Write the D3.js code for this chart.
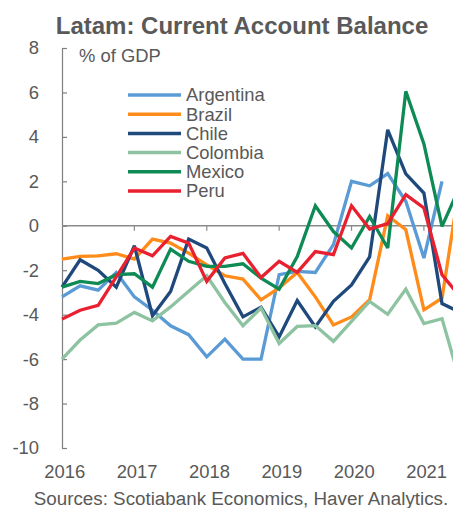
<!DOCTYPE html>
<html>
<head>
<meta charset="utf-8">
<script src="https://cdn.jsdelivr.net/npm/d3@7"></script>
<style>
  html, body { margin: 0; padding: 0; background: #fff; }
  svg { display: block; font-family: "Liberation Sans", Arial, sans-serif; }
</style>
</head>
<body>
<svg id="chart" width="453" height="508"></svg>
<script>
// Quarterly current account balances, % of GDP
const quarters = ["2016Q1","2016Q2","2016Q3","2016Q4","2017Q1","2017Q2","2017Q3","2017Q4",
  "2018Q1","2018Q2","2018Q3","2018Q4","2019Q1","2019Q2","2019Q3","2019Q4",
  "2020Q1","2020Q2","2020Q3","2020Q4","2021Q1","2021Q2","2021Q3"];
const yearLabels = ["2016","2017","2018","2019","2020","2021"];
const yTicks = [8, 6, 4, 2, 0, -2, -4, -6, -8, -10];

const argentina = [-3.2, -2.7, -2.9, -2.1, -3.2, -3.8, -4.5, -4.9, -5.9, -5.1, -6.0, -6.0,
  -2.2, -2.05, -2.1, -0.85, 2.0, 1.8, 2.35, 1.1, -1.45, 2.0];
const brazil = [-1.5, -1.38, -1.35, -1.26, -1.5, -0.6, -0.78, -1.23, -1.76, -2.25, -2.4, -3.33,
  -2.8, -2.1, -3.2, -4.46, -4.1, -3.33, 0.45, -0.18, -3.78, -3.26, 2.0];
const chile = [-2.76, -1.53, -2.0, -2.76, -0.9, -4.05, -2.96, -0.6, -1.0, -2.6, -4.1, -3.66,
  -5.0, -3.36, -4.55, -3.4, -2.66, -1.4, 4.32, 2.34, 1.47, -3.5, -3.9];
const colombia = [-6.0, -5.14, -4.46, -4.38, -3.9, -4.28, -3.65, -2.95, -2.25, -3.45, -4.5, -3.7,
  -5.3, -4.53, -4.49, -5.2, -4.3, -3.4, -3.98, -2.85, -4.4, -4.18, -7.0];
const mexico = [-2.76, -2.5, -2.6, -2.2, -2.16, -2.76, -1.05, -1.6, -1.83, -1.83, -1.71, -2.36,
  -2.85, -1.38, 0.9, -0.26, -1.0, 0.42, -1.0, 6.05, 3.68, -0.03, 1.8];
const peru = [-4.2, -3.8, -3.58, -2.3, -1.0, -1.35, -0.48, -0.78, -2.5, -1.45, -1.24, -2.33,
  -1.6, -2.1, -1.16, -1.3, 0.9, -0.15, 0.1, 1.4, 0.8, -2.2, -3.2];

const seriesNames = ["Argentina", "Brazil", "Chile", "Colombia", "Mexico", "Peru"];
const seriesValues = [argentina, brazil, chile, colombia, mexico, peru];
const seriesColors = ["#5B9BD5", "#FF8C1A", "#1F497D", "#8DC3A0", "#0E8A55", "#E8202F"];

const textColor = "#595959";
const svg = d3.select("#chart");

const x = d3.scaleLinear().domain([0, 21]).range([62, 442]);
const y = d3.scaleLinear().domain([-10, 8]).range([448, 48]);

// Title
svg.append("text")
  .attr("x", 242).attr("y", 34)
  .attr("text-anchor", "middle")
  .attr("font-size", 24).attr("font-weight", "bold")
  .attr("fill", textColor)
  .text("Latam: Current Account Balance");

// Unit label
svg.append("text")
  .attr("x", 79).attr("y", 61.5)
  .attr("font-size", 18.4)
  .attr("fill", textColor)
  .text("% of GDP");

// Left axis: line, inward ticks, labels (plain hyphen for negatives)
const yAxis = d3.axisLeft(y)
  .tickValues(yTicks)
  .tickSizeInner(-5)
  .tickSizeOuter(0)
  .tickPadding(23)
  .tickFormat(d => String(d));
const gy = svg.append("g")
  .attr("transform", `translate(${x(0)},0)`)
  .call(yAxis);
gy.select(".domain").attr("stroke", "#7F7F7F").attr("stroke-width", 1.2);
gy.selectAll(".tick line").attr("stroke", "#7F7F7F").attr("stroke-width", 1.2);
gy.selectAll(".tick text")
  .attr("font-size", 18.4)
  .attr("fill", textColor)
  .attr("font-family", "Liberation Sans, Arial, sans-serif");

// Zero line with year ticks hanging below
const yearIdx = yearLabels.map((_, i) => i * 4);
svg.append("line")
  .attr("x1", x(0)).attr("x2", 453)
  .attr("y1", y(0)).attr("y2", y(0))
  .attr("stroke", "#8A8A8A").attr("stroke-width", 1.5);
svg.append("g").selectAll("line")
  .data(yearIdx.slice(1))
  .join("line")
  .attr("x1", d => x(d)).attr("x2", d => x(d))
  .attr("y1", y(0)).attr("y2", y(0) + 5)
  .attr("stroke", "#8A8A8A").attr("stroke-width", 1.2);

// Year labels along the bottom
svg.append("g").selectAll("text")
  .data(yearLabels)
  .join("text")
  .attr("x", (d, i) => x(yearIdx[i] + 0.15))
  .attr("y", 478)
  .attr("text-anchor", "middle")
  .attr("font-size", 18.4)
  .attr("fill", textColor)
  .text(d => d);

// Series lines
const line = d3.line()
  .x((d, i) => x(i))
  .y(d => y(d));
svg.append("g").selectAll("path")
  .data(seriesValues)
  .join("path")
  .attr("d", d => line(d))
  .attr("fill", "none")
  .attr("stroke", (d, i) => seriesColors[i])
  .attr("stroke-width", 3.3)
  .attr("stroke-linejoin", "miter")
  .attr("stroke-miterlimit", 3);

// Legend
const legend = svg.append("g");
const rows = legend.selectAll("g")
  .data(seriesNames)
  .join("g")
  .attr("transform", (d, i) => `translate(128, ${95 + i * 19.2})`);
rows.append("line")
  .attr("x1", 0).attr("x2", 53)
  .attr("stroke", (d, i) => seriesColors[i])
  .attr("stroke-width", 3.5);
rows.append("text")
  .attr("x", 58).attr("dy", "0.35em")
  .attr("font-size", 18.4)
  .attr("fill", textColor)
  .text(d => d);

// Source note
svg.append("text")
  .attr("x", 241).attr("y", 505)
  .attr("text-anchor", "middle")
  .attr("font-size", 18.8)
  .attr("fill", textColor)
  .text("Sources: Scotiabank Economics, Haver Analytics.");
</script>
</body>
</html>
